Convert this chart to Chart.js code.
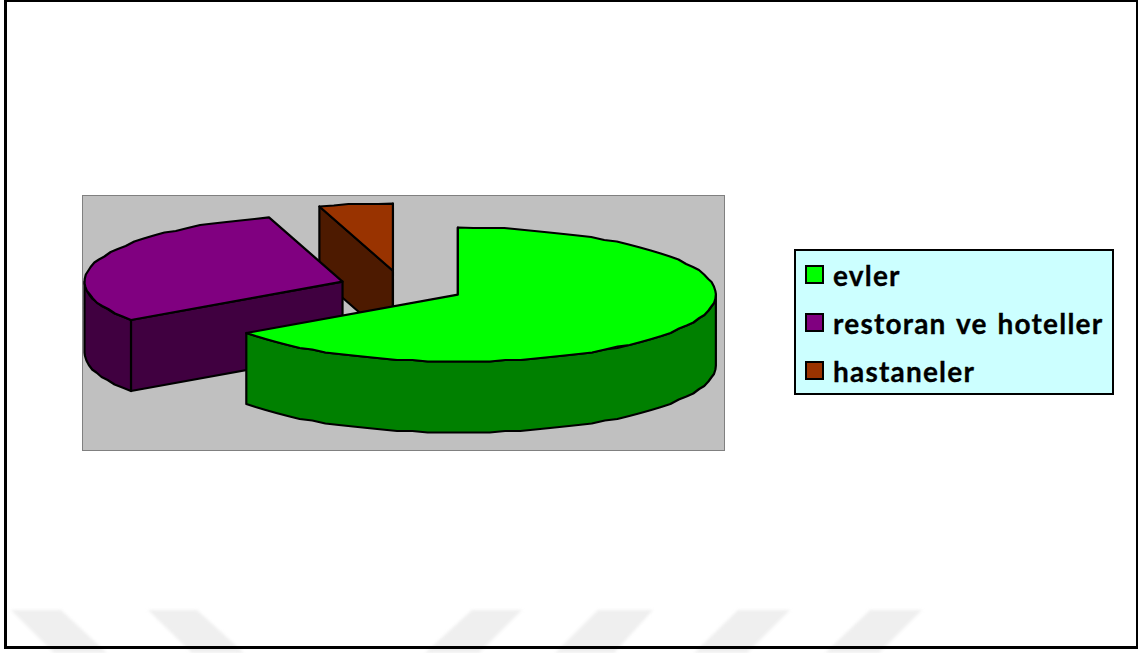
<!DOCTYPE html>
<html>
<head>
<meta charset="utf-8">
<title>evler</title>
<script src="https://cdn.jsdelivr.net/npm/chart.js@4"></script>
<style>
  html, body { margin: 0; padding: 0; background: #fff; }
  #page { position: relative; width: 1138px; height: 653px; overflow: hidden; }
  #mark { position: absolute; left: 0; top: 0; filter: blur(1.5px); }
  #frame { position: absolute; left: 4px; top: 0; width: 1129px; height: 644px; border: solid #000; border-width: 2px 3px 3px 3px; }
  #plot { position: absolute; left: 82px; top: 195px; width: 641px; height: 254px; background: #c0c0c0; border: 1.5px solid #808080; }
  #myChart { position: absolute; left: 0; top: 0; }
  #legend { position: absolute; left: 794px; top: 249px; width: 316px; height: 142px; background: #ccffff; border: 2px solid #000; }
  .row { position: absolute; left: 0; height: 48px; white-space: nowrap;
         font: bold 28px/48px Lato, sans-serif; letter-spacing: 1.2px; word-spacing: 2px; color: #000; }
  .row i { position: absolute; left: 9px; top: 14px; width: 15px; height: 15px; border: 2px solid #000; }
  .row span { position: absolute; left: 37px; top: 0; -webkit-text-stroke: 0.3px #000; }
</style>
</head>
<body>
<div id="page">
  <svg id="mark" width="1138" height="653">
    <g fill="#efefef">
      <polygon points="11,610 61,610 107,653 54,653"/>
      <polygon points="148,610 197,610 244,653 192,653"/>
      <polygon points="472,610 522,610 479,653 425,653"/>
      <polygon points="598,610 653,610 614,653 555,653"/>
      <polygon points="738,610 790,610 747,653 694,653"/>
      <polygon points="870,610 922,610 879,653 825,653"/>
    </g>
  </svg>
  <div id="frame"></div>
  <div id="plot"></div>
  <canvas id="myChart" width="1138" height="653"></canvas>
  <div id="legend"></div>
</div>

<script>
const categories = ['evler', 'restoran ve hoteller', 'hastaneler'];
const shares = [65.3, 30.1, 4.6];
const topColors = ['#00ff00', '#800080', '#993300'];
const sideColors = ['#008000', '#400040', '#4d1a00'];

// chart.js has no 3d pie, so the arcs it lays out get redrawn as flattened slabs
const pie3d = {
    id: 'pie3d',
    beforeDatasetDraw: function(chart, args, opts) {
        const ctx = chart.ctx;
        const arcs = args.meta.data;

        // back slices first, the front one has to cover them
        for (let i = arcs.length - 1; i >= 0; i--) {
            drawSlab(ctx, arcs[i], topColors[i], sideColors[i], opts);
        }
        return false;
    }
};

function drawSlab(ctx, arc, topColor, sideColor, opts) {
    const mid = (arc.startAngle + arc.endAngle) / 2;
    const cx = arc.x + Math.cos(mid) * opts.explode;
    const cy = arc.y + Math.sin(mid) * opts.explode * opts.squash;
    const r = arc.outerRadius;

    function rimPoint(a) {
        return [cx + Math.cos(a) * r, cy + Math.sin(a) * r * opts.squash];
    }

    // the original edge is a rough polyline, not a true ellipse
    function rim(from, to) {
        const pts = [rimPoint(from)];
        const n = Math.max(1, Math.round((to - from) / opts.step));
        for (let k = 1; k < n; k++) {
            const p = rimPoint(from + (to - from) * k / n);
            pts.push([p[0], Math.round(p[1] / opts.snap) * opts.snap]);
        }
        pts.push(rimPoint(to));
        return pts;
    }

    function shape(pts, fill) {
        ctx.beginPath();
        ctx.moveTo(pts[0][0], pts[0][1]);
        pts.slice(1).forEach(function(p) { ctx.lineTo(p[0], p[1]); });
        ctx.closePath();
        ctx.fillStyle = fill;
        ctx.fill();
        ctx.stroke();
    }

    function wall(pts) {
        const low = pts.map(function(p) { return [p[0], p[1] + opts.depth]; }).reverse();
        shape(pts.concat(low), sideColor);
    }

    ctx.save();
    ctx.lineWidth = 2.2;
    ctx.strokeStyle = '#000';
    ctx.lineJoin = 'round';

    // cut faces, only when they turn towards the viewer
    if (Math.cos(arc.startAngle) < 1e-6) {
        wall([[cx, cy], rimPoint(arc.startAngle)]);
    }
    if (Math.cos(arc.endAngle) > -1e-6) {
        wall([[cx, cy], rimPoint(arc.endAngle)]);
    }

    // only the part of the rim facing the viewer
    [0, 2 * Math.PI].forEach(function(base) {
        const from = Math.max(arc.startAngle, base);
        const to = Math.min(arc.endAngle, base + Math.PI);
        if (to > from) {
            wall(rim(from, to));
        }
    });

    shape([[cx, cy]].concat(rim(arc.startAngle, arc.endAngle)), topColor);
    ctx.restore();
}

var chart = new Chart(document.getElementById('myChart').getContext('2d'), {
    type: 'pie',
    data: {
        labels: categories,
        datasets: [{
            data: shares,
            backgroundColor: topColors,
            borderWidth: 0
        }]
    },
    options: {
        responsive: false,
        animation: false,
        layout: {
            padding: { left: 144, right: 478, top: 29, bottom: 108 }
        },
        plugins: {
            legend: { display: false },
            tooltip: { enabled: false },
            pie3d: { explode: 63, squash: 0.26, depth: 71, step: 0.06, snap: 1.5 }
        }
    },
    plugins: [pie3d]
});

// legend sits in its own box right of the plot
categories.forEach(function(name, i) {
    const row = document.createElement('div');
    row.className = 'row';
    row.style.top = (i * 48) + 'px';
    row.innerHTML = '<i style="background:' + topColors[i] + '"></i><span>' + name + '</span>';
    document.getElementById('legend').appendChild(row);
});
</script>
</body>
</html>
